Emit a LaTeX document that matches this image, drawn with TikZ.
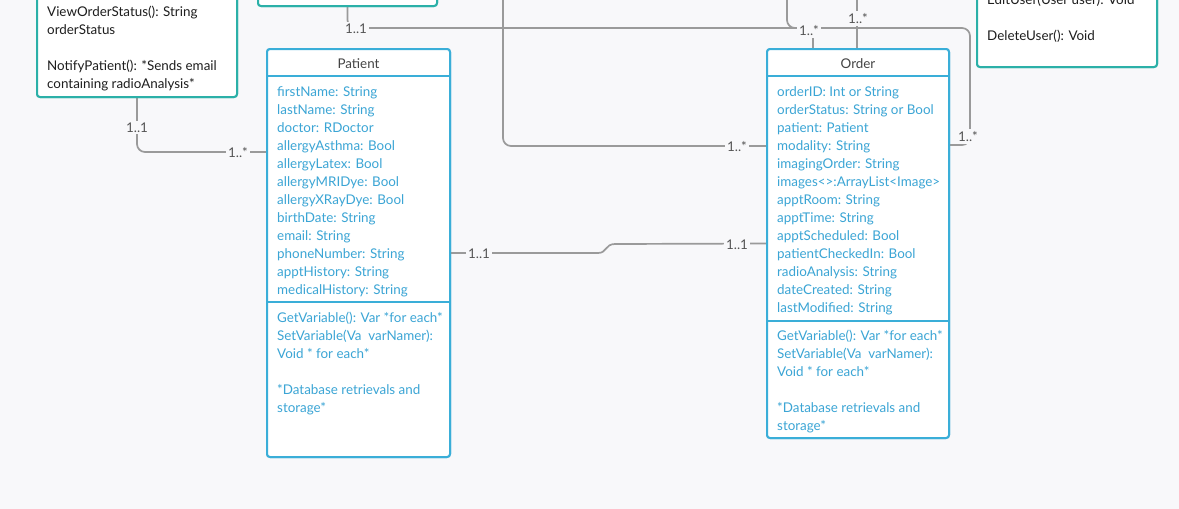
\documentclass[tikz,border=0pt]{standalone}
\usepackage{fontspec}
\setmainfont{Lato}
\definecolor{bgc}{HTML}{F8F8FA}
\definecolor{tealb}{HTML}{2BB0A8}
\definecolor{boxblue}{HTML}{3AAED8}
\definecolor{attrblue}{HTML}{3BA5D5}
\definecolor{conn}{HTML}{9A9A9A}
\definecolor{lbl}{HTML}{555555}
\definecolor{hdr}{HTML}{444444}
\definecolor{ink}{HTML}{1E1E1E}
\newcommand{\dfont}{\fontsize{13.4}{16}\selectfont}
\tikzset{
  umlbox/.style={draw=boxblue, fill=white, line width=2pt, rounded corners=3pt, inner sep=0pt, outer sep=0pt, anchor=north west},
  tealbox/.style={draw=tealb, fill=white, line width=2pt, rounded corners=3pt, inner sep=0pt, outer sep=0pt, anchor=north west},
  sepline/.style={draw=boxblue, line width=2pt},
  attr/.style={anchor=base west, inner sep=0pt, text=attrblue, font=\dfont},
  plain/.style={anchor=base west, inner sep=0pt, text=ink, font=\dfont},
  hdrtxt/.style={inner sep=0pt, text=hdr, font=\dfont},
  mult/.style={fill=bgc, inner sep=2pt, text=lbl, font=\dfont},
  connector/.style={draw=conn, line width=1.7pt, rounded corners=8pt},
}
\begin{document}
\begin{tikzpicture}[x=1pt,y=-1pt]
\fill[bgc] (0,0) rectangle (1179,509);
\useasboundingbox (0,0) rectangle (1179,509);

% boxes (nodes)
\node[tealbox, minimum width=200pt, minimum height=110pt] (topleft) at (37,-13) {};
\node[tealbox, minimum width=179pt, minimum height=20pt] (topmid) at (258,-14) {};
\node[tealbox, minimum width=180pt, minimum height=80pt] (topright) at (977,-13) {};
\node[umlbox, minimum width=183pt, minimum height=408pt] (patient) at (267,49) {};
\node[umlbox, minimum width=182pt, minimum height=389pt] (order) at (767,49) {};

% connectors
\coordinate (dtop) at (503,-5);
\coordinate (btop) at (787,-5);
\coordinate (ctop) at (857,-5);
\draw[connector] (topleft.south) |- (patient.west |- 0,152);
\draw[connector] (topmid.south) |- (970,28) |- (order.east |- 0,145);
\draw[connector] (dtop) |- (order.west |- 0,146);
\draw[connector] (btop) |- (813,28) -- (order.north -| 813,0);
\draw[connector] (ctop) -- (order.north -| 857,0);
\draw[connector, rounded corners=0pt] (patient.east) -- (598,253) .. controls (607,253) and (605,244) .. (615,244) -- (order.west);

% redraw boxes on top of connector ends
\node[tealbox, minimum width=200pt, minimum height=110pt] (topleftB) at (37,-13) {};
\node[tealbox, minimum width=179pt, minimum height=20pt] (topmidB) at (258,-14) {};
\node[tealbox, minimum width=180pt, minimum height=80pt] (toprightB) at (977,-13) {};
\node[umlbox, minimum width=183pt, minimum height=408pt] (patientB) at (267,49) {};
\node[umlbox, minimum width=182pt, minimum height=389pt] (orderB) at (767,49) {};

% compartment separators
\draw[sepline] (patient.west |- 0,76) -- (patient.east |- 0,76);
\draw[sepline] (patient.west |- 0,302) -- (patient.east |- 0,302);
\draw[sepline] (order.west |- 0,76) -- (order.east |- 0,76);
\draw[sepline] (order.west |- 0,321) -- (order.east |- 0,321);

% headers
\node[hdrtxt] (phdr) at (358.5,63.5) {Patient};
\node[hdrtxt] (ohdr) at (858,63.5) {Order};

% Patient attributes
\foreach [count=\i] \t in {firstName: String, lastName: String, doctor: RDoctor, allergyAsthma: Bool, allergyLatex: Bool, allergyMRIDye: Bool, allergyXRayDye: Bool, birthDate: String, email: String, phoneNumber: String, apptHistory: String, medicalHistory: String}
  \node[attr] (pa\i) at ({277},{96+18*(\i-1)}) {\t};
% Patient methods
\node[attr] (pm1) at (277,322) {GetVariable(): Var *for each*};
\node[attr] (pm2) at (277,340) {SetVariable(Va~ varNamer):};
\node[attr] (pm3) at (277,358) {Void * for each*};
\node[attr] (pm4) at (277,394) {*Database retrievals and};
\node[attr] (pm5) at (277,412) {storage*};

% Order attributes
\foreach [count=\i] \t in {orderID: Int or String, orderStatus: String or Bool, patient: Patient, modality: String, imagingOrder: String, images<>:ArrayList<Image>, apptRoom: String, apptTime: String, apptScheduled: Bool, patientCheckedIn: Bool, radioAnalysis: String, dateCreated: String, lastModified: String}
  \node[attr] (oa\i) at ({777},{96+18*(\i-1)}) {\t};
% Order methods
\node[attr] (om1) at (777,340) {GetVariable(): Var *for each*};
\node[attr] (om2) at (777,358) {SetVariable(Va~ varNamer):};
\node[attr] (om3) at (777,376) {Void * for each*};
\node[attr] (om4) at (777,412) {*Database retrievals and};
\node[attr] (om5) at (777,430) {storage*};

% top-left box text
\node[plain] (tl1) at (47,16) {ViewOrderStatus(): String};
\node[plain] (tl2) at (47,34) {orderStatus};
\node[plain] (tl3) at (47,70) {NotifyPatient(): *Sends email};
\node[plain] (tl4) at (47,88) {containing radioAnalysis*};

% top-right box text
\node[plain] (tr1) at (987,4) {EditUser(User user): Void};
\node[plain] (tr2) at (987,40) {DeleteUser(): Void};

% multiplicities
\node[mult] (m1) at (137,127.5) {1..1};
\node[mult] (m2) at (238,152.5) {1..*};
\node[mult] (m3) at (356,28.5) {1..1};
\node[mult] (m4) at (968,136.5) {1..*};
\node[mult] (m5) at (737,146.5) {1..*};
\node[mult] (m6) at (809,30.5) {1..*};
\node[mult] (m7) at (858,18.5) {1..*};
\node[mult] (m8) at (479,253.5) {1..1};
\node[mult] (m9) at (737,244.5) {1..1};
\end{tikzpicture}
\end{document}
